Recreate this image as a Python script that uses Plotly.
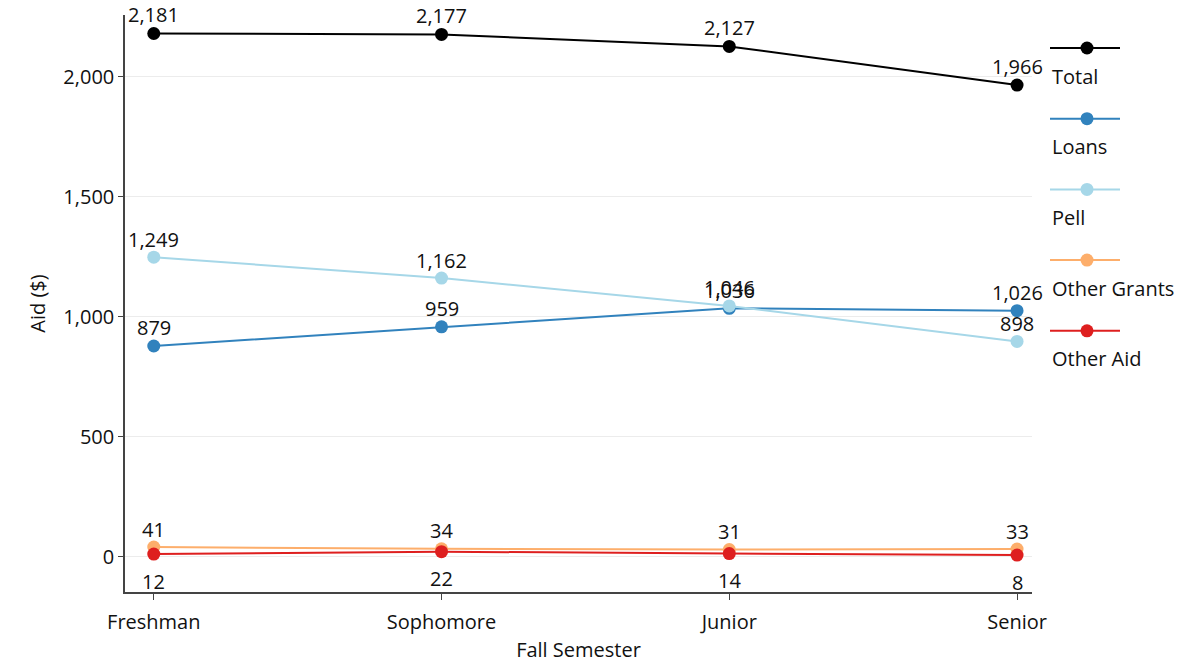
import plotly.graph_objects as go

# Average aid per student by class standing
semesters = ["Freshman", "Sophomore", "Junior", "Senior"]
total = [2181, 2177, 2127, 1966]
loans = [879, 959, 1036, 1026]
pell = [1249, 1162, 1046, 898]
other_grants = [41, 34, 31, 33]
other_aid = [12, 22, 14, 8]

series_names = ["Total", "Loans", "Pell", "Other Grants", "Other Aid"]
series_values = [total, loans, pell, other_grants, other_aid]
series_colors = ["#000000", "#3182bd", "#a6d7e8", "#fdae6b", "#de1f1f"]
# vertical offset (px) of each series' value labels from its markers
label_shift = [19, 18, 18, 18, -27]

FONT = "Open Sans"
FS = 20
TXT = "#111111"
W, H = 1185, 666
L, R, T, B = 125, 153, 15, 74
plot_w = W - L - R
plot_h = H - T - B

fig = go.Figure()
annotations = []
for name, vals, color, shift in zip(series_names, series_values, series_colors, label_shift):
    xs = list(range(len(semesters)))
    fig.add_trace(go.Scatter(
        x=xs, y=vals, name=name, mode="lines+markers",
        line=dict(color=color, width=2),
        marker=dict(color=color, size=13),
        showlegend=False, cliponaxis=False,
    ))
    for x, v in zip(xs, vals):
        annotations.append(dict(
            x=x, y=v, xref="x", yref="y", text=f"{v:,}", showarrow=False,
            xanchor="center", yanchor="middle", yshift=shift,
            font=dict(family=FONT, size=FS, color=TXT),
        ))

# Legend drawn as line + dot swatches with the label underneath
shapes = []
sw_left, sw_right, sw_mid = 1050, 1120, 1087
for i, (name, color) in enumerate(zip(series_names, series_colors)):
    py = 48 + i * 70.7
    yp = (H - B - py) / plot_h
    x0 = (sw_left - L) / plot_w
    x1 = (sw_right - L) / plot_w
    xm = (sw_mid - L) / plot_w
    shapes.append(dict(type="line", xref="paper", yref="paper", x0=x0, x1=x1, y0=yp, y1=yp,
                       line=dict(color=color, width=2)))
    shapes.append(dict(type="circle", xref="paper", yref="paper",
                       xsizemode="pixel", ysizemode="pixel", xanchor=xm, yanchor=yp,
                       x0=-6.5, x1=6.5, y0=-6.5, y1=6.5,
                       fillcolor=color, line=dict(color=color, width=0)))
    annotations.append(dict(text=name, xref="paper", yref="paper", x=x0,
                            y=(H - B - (py + 28)) / plot_h, xanchor="left", yanchor="middle",
                            showarrow=False, font=dict(family=FONT, size=FS, color=TXT)))

fig.update_layout(
    width=W, height=H,
    margin=dict(l=L, r=R, t=T, b=B),
    paper_bgcolor="white", plot_bgcolor="white",
    font=dict(family=FONT, size=FS, color=TXT),
    shapes=shapes,
    annotations=annotations,
    xaxis=dict(
        tickmode="array", tickvals=list(range(len(semesters))), ticktext=semesters,
        range=[-0.1, 3.052], showgrid=False, zeroline=False, automargin=False,
        showline=True, linecolor="#444444", linewidth=1.5,
        ticks="outside", ticklen=6, tickcolor="#444444",
        ticklabelstandoff=5,
        tickfont=dict(family=FONT, size=FS, color=TXT),
        title=dict(text="Fall Semester", font=dict(family=FONT, size=FS), standoff=9),
    ),
    yaxis=dict(
        range=[-146, 2258], tickvals=[0, 500, 1000, 1500, 2000], tickformat=",",
        showgrid=True, gridcolor="#ececec", gridwidth=1, zeroline=False, automargin=False,
        showline=True, linecolor="#444444", linewidth=1.5,
        ticks="outside", ticklen=5, tickcolor="#444444",
        tickfont=dict(family=FONT, size=FS, color=TXT),
        title=dict(text="Aid ($)", font=dict(family=FONT, size=FS), standoff=12),
    ),
)

fig.write_html("out.html")
